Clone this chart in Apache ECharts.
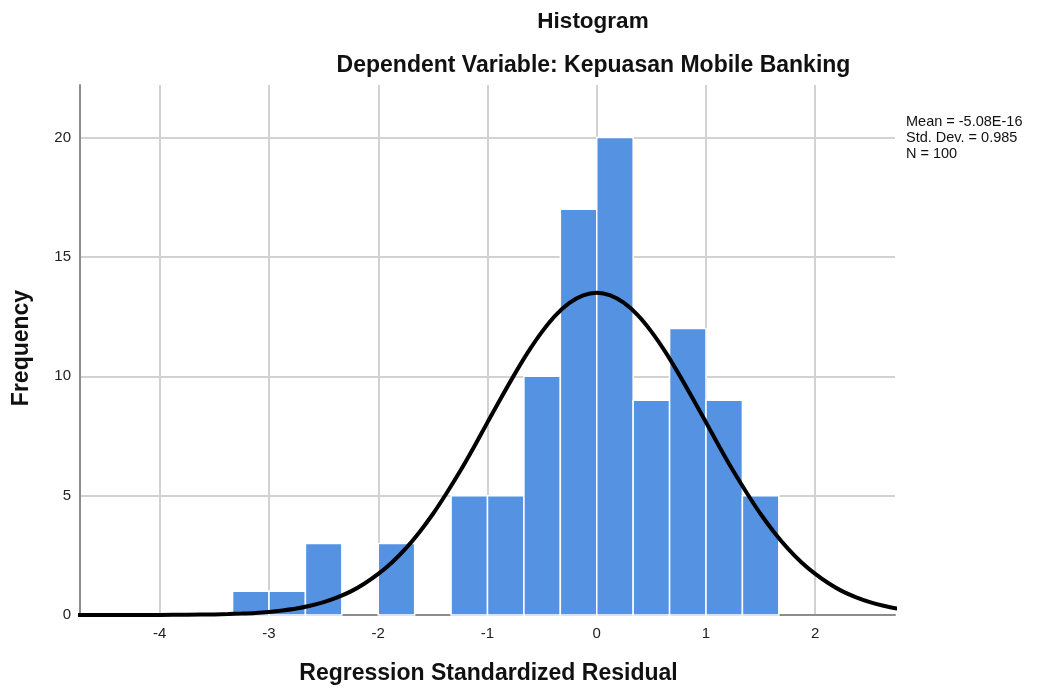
<!DOCTYPE html>
<html><head><meta charset="utf-8">
<script src="https://cdn.jsdelivr.net/npm/echarts@6/dist/echarts.min.js"></script>
<style>html,body{margin:0;padding:0;background:#fff}#c{width:1043px;height:689px}</style>
</head><body><div id="c"></div>
<script>
// Histogram bins (bin start, width 1/3) and frequencies
const binStarts = [-10/3, -3, -8/3, -2, -4/3, -1, -2/3, -1/3, 0, 1/3, 2/3, 1, 4/3];
const binWidth = 1/3;
const counts = [1, 1, 3, 3, 5, 5, 10, 17, 20, 9, 12, 9, 5];
// Normal curve points
const curveX = [-4.75,-4.5,-4.25,-4,-3.75,-3.5,-3.375,-3.25,-3.125,-3,-2.875,-2.75,-2.625,-2.5,-2.375,-2.25,-2.125,-2,-1.875,-1.75,-1.625,-1.5,-1.375,-1.25,-1.125,-1,-0.875,-0.75,-0.625,-0.5,-0.375,-0.25,-0.125,0,0.125,0.25,0.375,0.5,0.625,0.75,0.875,1,1.125,1.25,1.375,1.5,1.625,1.75,1.875,2,2.125,2.25,2.375,2.5,2.625,2.75];
const curveY = [0,0,0,0.004,0.01,0.025,0.038,0.06,0.088,0.13,0.19,0.27,0.39,0.54,0.74,0.99,1.32,1.72,2.2,2.78,3.46,4.23,5.1,6.03,7.03,8.07,9.1,10.1,11.04,11.87,12.56,13.07,13.39,13.5,13.39,13.07,12.56,11.87,11.04,10.1,9.1,8.07,7.03,6.03,5.1,4.23,3.46,2.78,2.2,1.72,1.32,0.99,0.74,0.54,0.39,0.27];
const xTicks = [-4,-3,-2,-1,0,1,2];
const yTicks = [0,5,10,15,20];
const statsLines = ['Mean = -5.08E-16','Std. Dev. = 0.985','N = 100'];

const chart = echarts.init(document.getElementById('c'));
const font = '"Liberation Sans", Arial, sans-serif';
chart.setOption({
  animation:false,
  textStyle:{fontFamily:font},
  grid:{left:80,right:148,top:85,bottom:74,containLabel:false},
  xAxis:{type:'value',min:-4.73,max:2.73,
    axisLine:{show:true,onZero:false,lineStyle:{color:'#8c8c8c',width:2}},
    axisTick:{show:false,customValues:xTicks},
    axisLabel:{customValues:xTicks,color:'#222',fontSize:15,margin:11,fontFamily:font},
    splitLine:{show:true,lineStyle:{color:'#d2d2d2',width:2}}},
  yAxis:{type:'value',min:0,max:22.2,
    axisLine:{show:true,onZero:false,lineStyle:{color:'#8c8c8c',width:2}},
    axisTick:{show:false,customValues:yTicks},
    axisLabel:{customValues:yTicks,color:'#222',fontSize:15,margin:9,fontFamily:font},
    splitLine:{show:true,lineStyle:{color:'#d2d2d2',width:2}}},
  graphic:[
    {type:'text',x:593,y:22,style:{text:'Histogram',font:'bold 22.5px '+font,fill:'#111',align:'center',verticalAlign:'middle'}},
    {type:'text',x:593.5,y:66,style:{text:'Dependent Variable: Kepuasan Mobile Banking',font:'bold 23px '+font,fill:'#111',align:'center',verticalAlign:'middle'}},
    {type:'text',x:22,y:348,rotation:Math.PI/2,style:{text:'Frequency',font:'bold 23px '+font,fill:'#111',align:'center',verticalAlign:'middle'}},
    {type:'text',x:488.5,y:674,style:{text:'Regression Standardized Residual',font:'bold 23px '+font,fill:'#111',align:'center',verticalAlign:'middle'}},
    {type:'text',left:906,top:114,style:{text:statsLines.join('\n'),font:'14.5px '+font,lineHeight:16,fill:'#111'}}
  ],
  series:[
    {type:'custom',
     data:binStarts.map((s,i)=>[s,s+binWidth,counts[i]]),
     encode:{x:[0,1],y:2},
     renderItem:function(params,api){
       const p0=api.coord([api.value(0),api.value(2)]);
       const p1=api.coord([api.value(1),0]);
       return {type:'rect',shape:{x:p0[0],y:p0[1],width:p1[0]-p0[0],height:p1[1]-p0[1]},
         style:{fill:'#5692e2',stroke:'#ffffff',lineWidth:1.5}};
     },z:2},
    {type:'line',data:curveX.map((x,i)=>[x,curveY[i]]),smooth:0.3,showSymbol:false,
     lineStyle:{color:'#000',width:4},z:3,clip:true}
  ]
});
</script></body></html>
